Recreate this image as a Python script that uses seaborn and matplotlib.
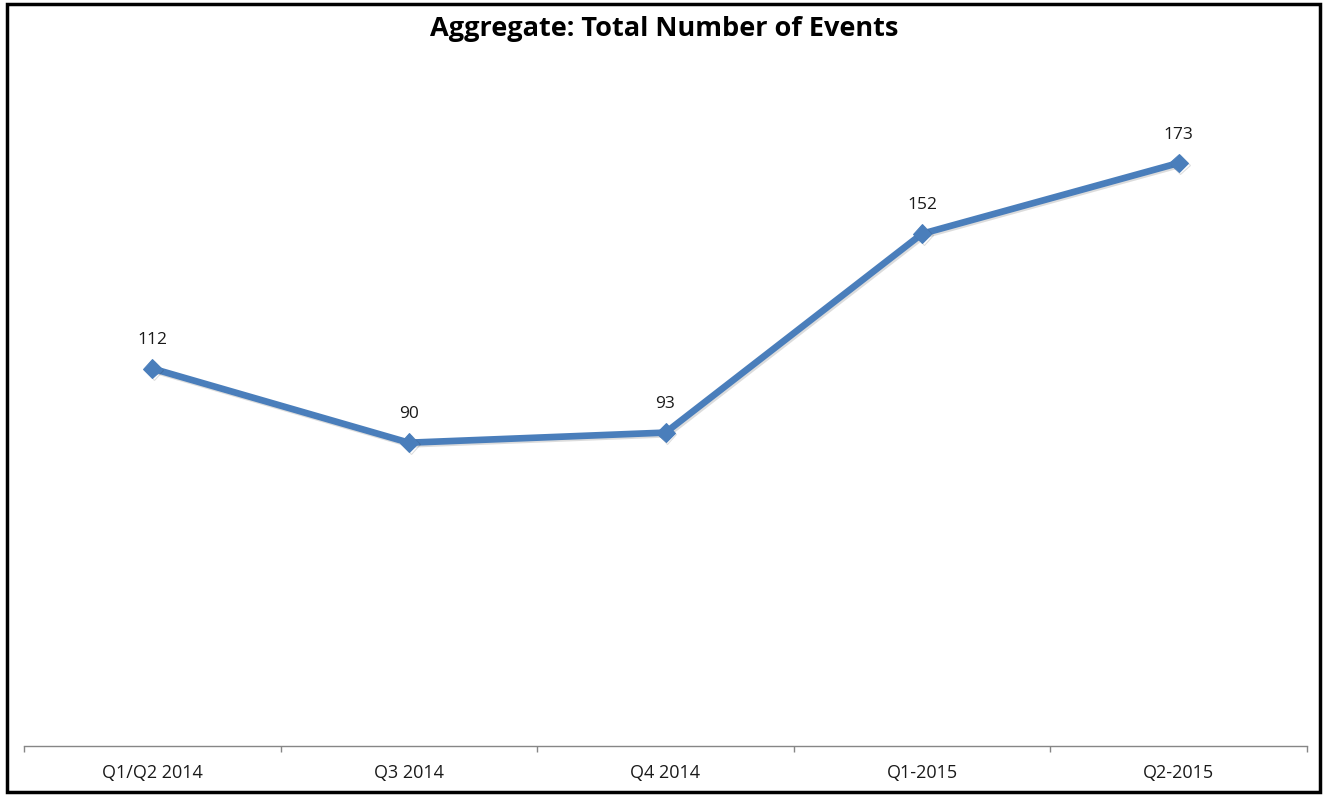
import matplotlib
matplotlib.use("Agg")
import matplotlib.pyplot as plt
import matplotlib.patheffects as pe
from matplotlib.patches import Rectangle
import seaborn as sns
import pandas as pd
import numpy as np

periods = ["Q1/Q2 2014", "Q3 2014", "Q4 2014", "Q1-2015", "Q2-2015"]
events = [112, 90, 93, 152, 173]

sns.set_theme(style="white")
plt.rcParams["font.family"] = ["Open Sans", "DejaVu Sans"]

W, H = 1324, 795
fig = plt.figure(figsize=(W / 100, H / 100), dpi=100)
fig.patch.set_facecolor("white")

# plot area in pixel coordinates
left, right, top, bottom = 24, 1307, 72, 746
ax = fig.add_axes([left / W, 1 - bottom / H, (right - left) / W, (bottom - top) / H])

df = pd.DataFrame({"period": periods, "events": events, "pos": np.arange(len(periods))})
line_color = "#4A7EBB"
sns.lineplot(data=df, x="pos", y="events", ax=ax, color=line_color, linewidth=4.8,
             marker="D", markersize=9.5, markeredgecolor=line_color,
             path_effects=[pe.SimpleLineShadow(offset=(1.2, -1.2), alpha=0.15),
                           pe.Normal()])

for x, v in zip(df["pos"], df["events"]):
    ax.annotate(str(v), (x, v), xytext=(0, 20.5), textcoords="offset points",
                ha="center", va="center", fontsize=12.5, color="#1a1a1a")

ax.set_xlim(-0.5, len(periods) - 0.5)
ax.set_ylim(0, 200)
ax.set_xlabel("")
ax.set_ylabel("")
ax.set_yticks([])
ax.set_xticks(df["pos"])
ax.set_xticklabels(periods, fontsize=13, color="#1a1a1a")
ax.set_xticks(np.arange(-0.5, len(periods)), minor=True)
ax.tick_params(axis="x", which="major", length=0, pad=13)
ax.tick_params(axis="x", which="minor", length=4, width=1, color="#868686", direction="out", bottom=True)
for s in ["top", "right", "left"]:
    ax.spines[s].set_visible(False)
ax.spines["bottom"].set_color("#868686")
ax.spines["bottom"].set_linewidth(1)

fig.text(664 / W, 1 - 29 / H, "Aggregate: Total Number of Events", ha="center", va="center",
         fontsize=19.5, fontweight="bold", color="black")

# chart border
fig.patches.append(Rectangle((6.5 / W, 1 - 792 / H), (1320 - 6.5) / W, (792 - 4) / H,
                             transform=fig.transFigure, fill=False, edgecolor="black",
                             linewidth=2.5))

fig.savefig("out.png", dpi=100)
